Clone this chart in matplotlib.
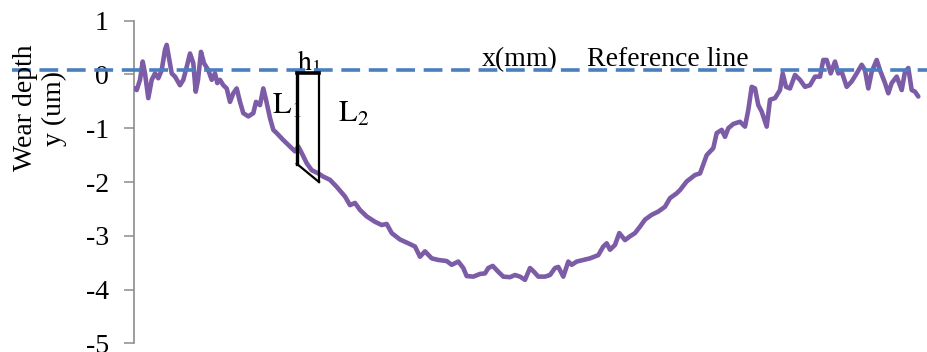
import matplotlib
matplotlib.use("Agg")
import matplotlib.pyplot as plt
from matplotlib.transforms import blended_transform_factory

plt.rcParams['font.family'] = ['Liberation Serif', 'DejaVu Serif']
plt.rcParams['mathtext.fontset'] = 'stix'
plt.rcParams['axes.unicode_minus'] = False

# ---- data ----
x_pos = [1, 2.7, 6, 8.7, 11, 14.3, 17.7, 21, 24.3, 27.7, 31, 32.7, 35.3, 37.7, 41, 46, 49.3, 52.7,
         56, 59.3, 61.7, 64, 67, 70, 74.3, 77.7, 81, 83.3, 86, 89.3, 92.7, 96, 99.3, 102.7, 106,
         109.3, 114.3, 119.3, 122, 126, 129.3, 132, 136, 139.3, 142.7, 149.3, 156, 161, 164.3,
         167.7, 172.7, 177.7, 184.3, 189.3, 196, 202.7, 211, 216, 221, 226, 232.7, 241, 247.7,
         252.7, 257.7, 266, 274.3, 281, 286, 291, 297.7, 304.3, 312.7, 317.7, 324.3, 329.3, 332.7,
         339.3, 346, 351, 354.3, 358.7, 364.3, 369.3, 376, 381, 386, 391, 396, 400, 404.3, 411,
         416, 421, 424.3, 429.3, 434.3, 437.7, 442.7, 449.3, 456, 464.3, 469.3, 472.7, 476, 481,
         485.3, 491, 496, 501, 506, 511, 517.7, 524.3, 531, 536, 542.7, 546, 552.7, 561, 566,
         572.7, 579.3, 582.7, 587.7, 591, 594.3, 599.3, 606, 611, 614.3, 617.7, 621, 624.3, 627.7,
         632.7, 636, 641, 646, 648.7, 652, 656, 661, 666, 671, 676, 681, 686, 689.3, 692.7, 696.7,
         701, 704.3, 707.7, 712.7, 717.7, 722.7, 727.7, 731, 734.3, 737.7, 742.7, 746, 751, 754.3,
         757.7, 762.7, 767.7, 771, 774.3, 777.7, 781, 784.3]
wear_depth = [-0.26, -0.29, -0.10, 0.24, 0.02, -0.44, -0.10, 0.02, -0.07, 0.08, 0.46, 0.55, 0.27,
              0.02, -0.04, -0.20, -0.10, 0.14, 0.39, 0.21, -0.32, -0.10, 0.42, 0.21, 0.08, -0.10,
              0.02, -0.16, -0.10, -0.20, -0.26, -0.51, -0.35, -0.26, -0.51, -0.72, -0.78, -0.72,
              -0.51, -0.57, -0.26, -0.47, -0.81, -1.03, -1.09, -1.22, -1.34, -1.43, -1.34, -1.46,
              -1.65, -1.78, -1.84, -1.90, -1.96, -2.09, -2.27, -2.43, -2.39, -2.52, -2.64, -2.74,
              -2.80, -2.78, -2.95, -3.07, -3.14, -3.20, -3.39, -3.29, -3.42, -3.45, -3.47, -3.54,
              -3.48, -3.60, -3.75, -3.76, -3.71, -3.70, -3.60, -3.56, -3.67, -3.76, -3.77, -3.73,
              -3.76, -3.82, -3.60, -3.67, -3.76, -3.76, -3.73, -3.60, -3.58, -3.76, -3.48, -3.54,
              -3.48, -3.45, -3.42, -3.36, -3.20, -3.14, -3.26, -3.17, -2.95, -3.08, -3.01, -2.95,
              -2.83, -2.70, -2.61, -2.55, -2.46, -2.30, -2.21, -2.15, -1.99, -1.87, -1.84, -1.50,
              -1.37, -1.09, -1.03, -1.16, -1.00, -0.92, -0.88, -0.97, -0.66, -0.23, -0.26, -0.57,
              -0.69, -0.97, -0.47, -0.44, -0.29, 0.02, -0.23, -0.26, -0.01, -0.10, -0.23, -0.20,
              -0.04, -0.04, 0.27, 0.27, 0.02, 0.24, 0.02, 0.05, -0.23, -0.13, 0.02, 0.18, 0.08,
              -0.26, 0.05, 0.27, 0.08, -0.16, -0.35, -0.16, -0.04, -0.29, 0.05, 0.12, -0.29, -0.32,
              -0.41]
reference_level = 0.08
y_ticks = [1, 0, -1, -2, -3, -4, -5]
y_ticklabels = ['1', '0', '-1', '-2', '-3', '-4', '-5']

# annotation box (L1 / L2 / h1 sketch)
box_x = [162.7, 185.0, 185.0, 162.7]
box_y = [0.02, 0.02, -2.00, -1.66]

W, H = 927, 352
fig = plt.figure(figsize=(W / 100, H / 100), dpi=100)
ax = fig.add_axes([134 / W, 8.7 / H, 793 / W, 322.6 / H])
ax.set_xlim(0, 793)
ax.set_ylim(-5, 1)

purple = '#7C5CA6'
blue = '#4A7EBF'
gray = '#8C8C8C'

ax.plot(x_pos, wear_depth, color=purple, lw=3.3, solid_joinstyle='round',
        solid_capstyle='round', zorder=3)

# dashed reference line spanning from the very left of the figure
tr = blended_transform_factory(fig.transFigure, ax.transData)
ax.plot([12 / W, 1.0], [reference_level, reference_level], transform=tr, clip_on=False,
        color=blue, lw=2.6, dashes=(5.2, 2.4), zorder=4)

# box
bk = 'black'
ax.plot([box_x[0], box_x[0]], [box_y[0], box_y[3]], color=bk, lw=2.4, zorder=5, solid_capstyle='projecting')
ax.plot([box_x[0], box_x[1]], [box_y[0], box_y[1]], color=bk, lw=2.6, zorder=5, solid_capstyle='projecting')
ax.plot([box_x[1], box_x[2]], [box_y[1], box_y[2]], color=bk, lw=1.6, zorder=5)
ax.plot([box_x[3], box_x[2]], [box_y[3], box_y[2]], color=bk, lw=1.6, zorder=5)

# text annotations
ax.text(163, 0.07, r'$\mathrm{h}_1$', fontsize=20, va='baseline', ha='left', zorder=2)
ax.text(137.7, -0.73, r'$\mathrm{L}_1$', fontsize=22, va='baseline', ha='left')
ax.text(204, -0.88, r'$\mathrm{L}_2$', fontsize=22, va='baseline', ha='left')
ax.text(347.7, 0.158, 'x(mm)', fontsize=20, va='baseline', ha='left')
ax.text(452.7, 0.158, 'Reference line', fontsize=20, va='baseline', ha='left')

# axes styling
for s in ['top', 'right', 'bottom']:
    ax.spines[s].set_visible(False)
ax.spines['left'].set_color(gray)
ax.spines['left'].set_linewidth(1.2)
ax.set_xticks([])
ax.set_yticks(y_ticks)
ax.set_yticklabels(y_ticklabels)
ax.tick_params(axis='y', direction='out', length=7.2, width=1.1, color=gray,
               labelsize=20, pad=11, labelcolor='black')

fig.text(40 / W, 1 - 108 / H, 'Wear depth\ny (um)', rotation=90, ha='center', va='center',
         fontsize=20, multialignment='center', linespacing=1.15)

fig.savefig('out.png', dpi=100)
